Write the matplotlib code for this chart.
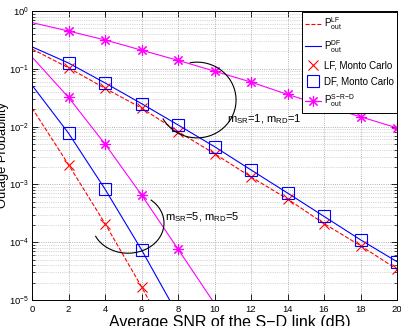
import numpy as np
import matplotlib
matplotlib.use('Agg')
import matplotlib.pyplot as plt

plt.rcParams['font.family'] = ['Liberation Sans', 'DejaVu Sans']
plt.rcParams['mathtext.fontset'] = 'custom'
plt.rcParams['mathtext.rm'] = 'Liberation Sans'
plt.rcParams['mathtext.it'] = 'Liberation Sans:italic'

# SNR of the S-D link (dB)
snr = np.array([0, 2, 4, 6, 8, 10, 12, 14, 16, 18, 20])
snr_low = np.array([0, 2, 4, 6, 8, 10])

# m_SR = 1, m_RD = 1
srd_1 = np.array([0.63, 0.45, 0.316, 0.21, 0.14, 0.091, 0.059, 0.036, 0.023, 0.0148, 0.0095])
df_1 = np.array([0.24, 0.126, 0.057, 0.025, 0.0107, 0.0045, 0.00178, 7.1e-4, 2.8e-4, 1.1e-4, 4.6e-5])
lf_1 = np.array([0.22, 0.104, 0.046, 0.021, 0.0082, 0.0034, 0.00135, 5.6e-4, 2.1e-4, 8.7e-5, 3.4e-5])

# m_SR = 5, m_RD = 5
srd_5 = np.array([0.16, 0.032, 0.005, 6.6e-4, 7.6e-5, 8.7e-6])
df_5 = np.array([0.052, 0.0077, 8.3e-4, 7.4e-5, 5.5e-6, 4e-7])
lf_5 = np.array([0.021, 0.0022, 2.1e-4, 1.7e-5, 1.2e-6, 1e-7])

red, blue, mag = '#ff0000', '#0000ff', '#ff00ff'

fig = plt.figure(figsize=(4.01, 3.26), dpi=100)
ax = fig.add_axes([32 / 401, 26 / 326, 365 / 401, 289 / 326])

lw = 0.8
# analytical curves
ax.semilogy(snr, lf_1, '--', color=red, lw=lw, label=r'$\mathrm{P_{out}^{LF}}$')
ax.semilogy(snr, df_1, '-', color=blue, lw=lw, label=r'$\mathrm{P_{out}^{DF}}$')
ax.semilogy(snr_low, lf_5, '--', color=red, lw=lw)
ax.semilogy(snr_low, df_5, '-', color=blue, lw=lw)

# Monte Carlo points
ax.semilogy(snr[1:], lf_1[1:], 'x', color=red, ms=7, mew=0.8, label='LF, Monto Carlo')
ax.semilogy(snr[1:], df_1[1:], 's', mfc='none', mec=blue, ms=8, mew=0.8,
            label='DF, Monto Carlo')
ax.semilogy(snr_low[1:4], lf_5[1:4], 'x', color=red, ms=7, mew=0.8)
ax.semilogy(snr_low[1:4], df_5[1:4], 's', mfc='none', mec=blue, ms=8, mew=0.8)

# S-R-D
ax.semilogy(snr, srd_1, '-', color=mag, lw=lw, marker=(8, 2, 0), ms=8, mew=0.8,
            markevery=list(range(1, 11)), label=r'$\mathrm{P_{out}^{S\!-\!R\!-\!D}}$')
ax.semilogy(snr_low, srd_5, '-', color=mag, lw=lw, marker=(8, 2, 0), ms=8, mew=0.8,
            markevery=[1, 2, 3, 4])

ax.set_xlim(0, 20)
ax.set_ylim(1e-5, 1)
ax.set_xticks(np.arange(0, 21, 2))
ax.tick_params(which='both', direction='in', top=True, right=True, labelsize=6.8)
ax.tick_params(axis='y', pad=2)
ax.tick_params(which='major', length=4, width=0.6)
ax.tick_params(which='minor', length=2, width=0.5)
ax.grid(True, which='major', ls=':', color='0.6', lw=0.6)
ax.grid(True, which='minor', axis='y', ls=':', color='0.7', lw=0.5)
for s in ax.spines.values():
    s.set_linewidth(0.7)

ax.set_xlabel('Average SNR of the S\u2212D link (dB)', fontsize=11.5)
ax.xaxis.set_label_coords(0.542, -0.052)
ax.set_ylabel('Outage Probability', fontsize=9.3)
ax.yaxis.set_label_coords(-0.062, 0.5)

# ellipse-like annotation arcs (axes fraction)
def arc(cx, cy, rx, ry, t1, t2):
    t = np.radians(np.linspace(t1, t2, 120))
    ax.plot(cx + rx * np.cos(t), cy + ry * np.sin(t), color='k', lw=0.8,
            transform=ax.transAxes)

arc(0.452, 0.692, 0.107, 0.131, 100, -150)
arc(0.263, 0.266, 0.0986, 0.104, 50, -154)
ax.text(0.534, 0.626, r'$\mathrm{m_{SR}}$=1, $\mathrm{m_{RD}}$=1', fontsize=8,
        va='center', transform=ax.transAxes)
ax.text(0.364, 0.287, r'$\mathrm{m_{SR}}$=5, $\mathrm{m_{RD}}$=5', fontsize=8,
        va='center', transform=ax.transAxes)

leg = ax.legend(loc='upper right', bbox_to_anchor=(1.0, 0.9965), fontsize=7,
                fancybox=False, edgecolor='k', framealpha=1, borderaxespad=0,
                handlelength=1.6, handletextpad=0.3, labelspacing=0.6,
                borderpad=0.35)
leg.get_frame().set_linewidth(0.7)

fig.savefig('out.png', dpi=100)
